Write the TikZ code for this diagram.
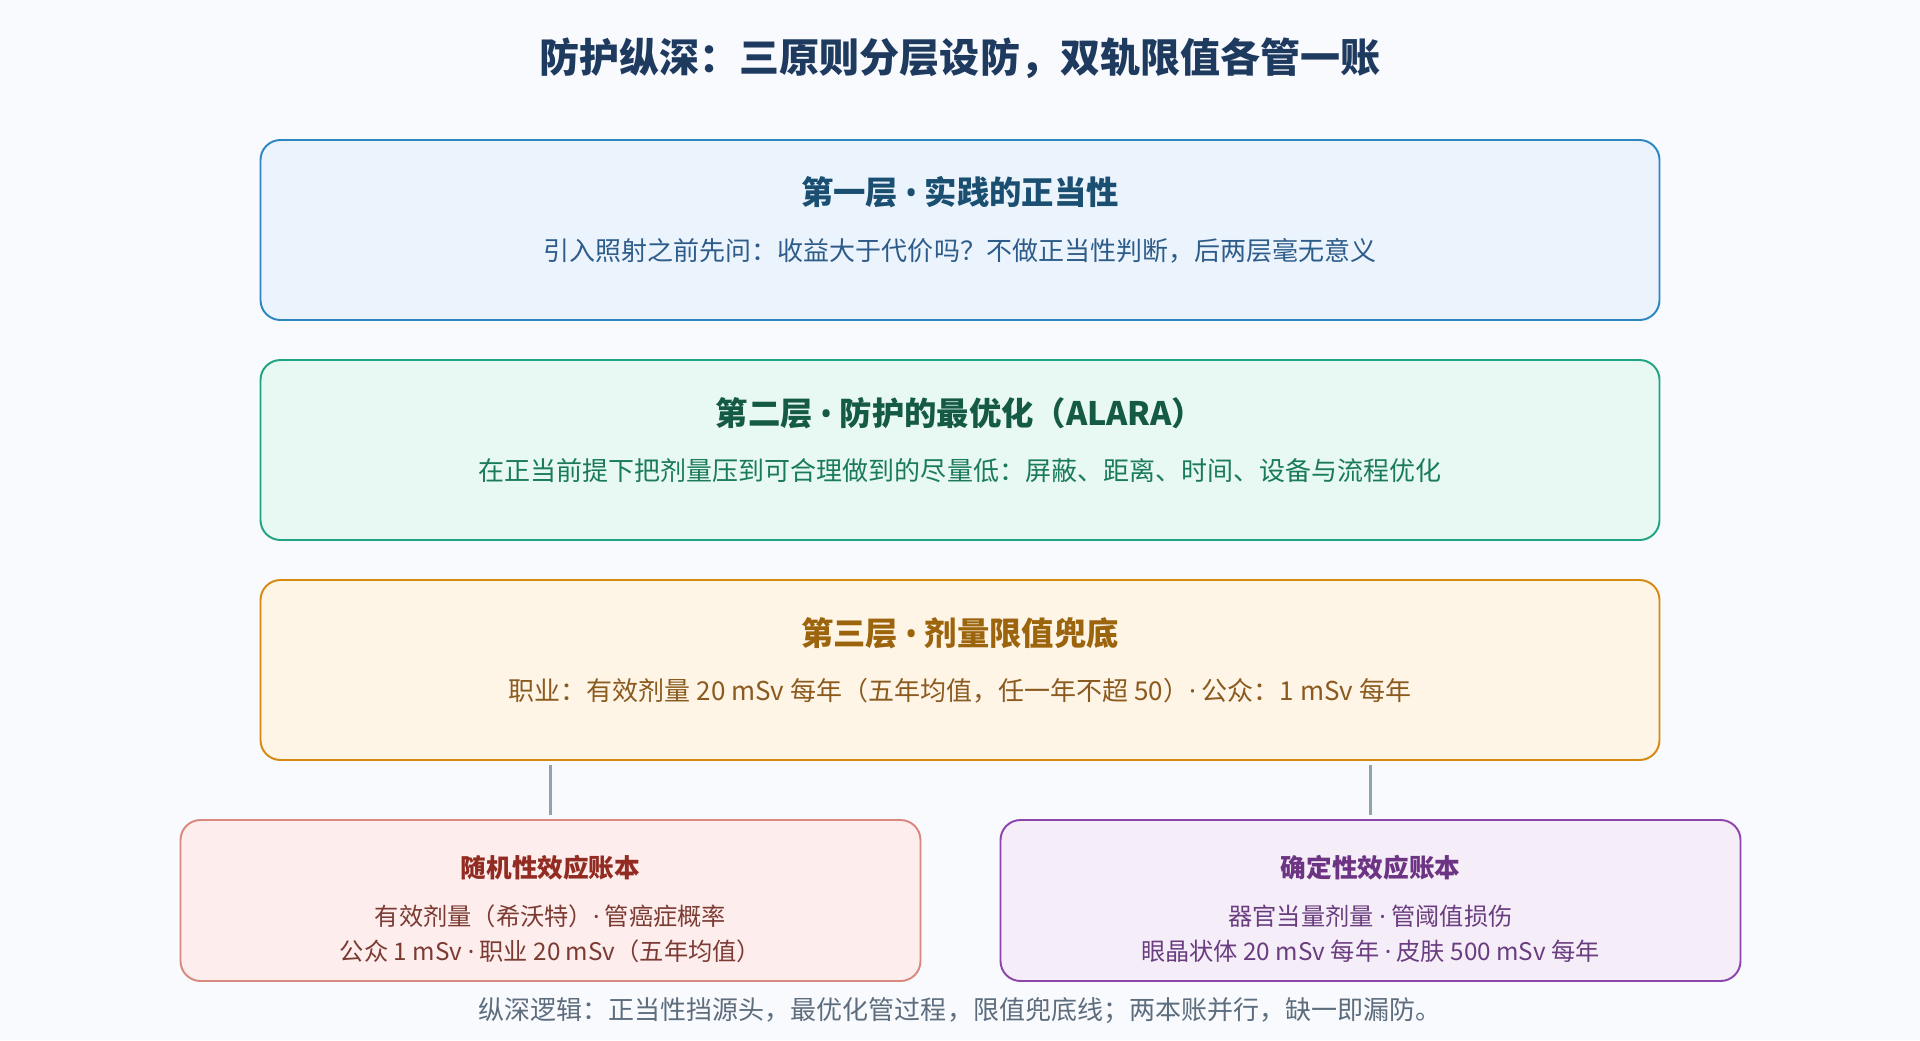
\documentclass[tikz,border=0pt]{standalone}
\usepackage{fontspec}
\setmainfont{Noto Sans CJK SC}
\newfontfamily\latinfont{Noto Sans}
\usetikzlibrary{positioning, calc}

\newcommand{\middot}{{\latinfont ·}}
\newcommand{\bulletdot}{{\latinfont •}}

\definecolor{bgpage}{HTML}{F8FAFD}
\definecolor{titlecol}{HTML}{1F3A5F}
\definecolor{oneFill}{HTML}{EBF3FC}
\definecolor{oneDraw}{HTML}{2E86C1}
\definecolor{oneHead}{HTML}{1B4F72}
\definecolor{oneText}{HTML}{2E5C8A}
\definecolor{twoFill}{HTML}{E8F8F2}
\definecolor{twoDraw}{HTML}{1FA383}
\definecolor{twoHead}{HTML}{145A44}
\definecolor{twoText}{HTML}{1A7A5C}
\definecolor{threeFill}{HTML}{FEF5E7}
\definecolor{threeDraw}{HTML}{D68910}
\definecolor{threeHead}{HTML}{9C640C}
\definecolor{threeText}{HTML}{8B5A1E}
\definecolor{stochFill}{HTML}{FDEDEC}
\definecolor{stochDraw}{HTML}{D98880}
\definecolor{stochHead}{HTML}{922B21}
\definecolor{stochText}{HTML}{7B3B33}
\definecolor{detFill}{HTML}{F5EEF8}
\definecolor{detDraw}{HTML}{8E44AD}
\definecolor{detHead}{HTML}{6C3483}
\definecolor{detText}{HTML}{6A3D80}
\definecolor{linkcol}{HTML}{8FA3AF}
\definecolor{footcol}{HTML}{5D6D7E}

\begin{document}
\begin{tikzpicture}[
		layer/.style={draw, line width=1.1pt, outer sep=0pt, rounded corners=0.4cm, minimum width=27.98cm, minimum height=3.6cm},
		ledger/.style={draw, line width=1.1pt, outer sep=0pt, rounded corners=0.4cm, minimum width=14.8cm, minimum height=3.22cm},
		head/.style={font=\bfseries\fontsize{18.4pt}{21pt}\selectfont},
		body/.style={font=\fontsize{14.8pt}{18pt}\selectfont},
		smallhead/.style={font=\bfseries\fontsize{14.6pt}{18pt}\selectfont},
		smallbody/.style={font=\fontsize{13.8pt}{17pt}\selectfont},
		link/.style={draw=linkcol, line width=2pt},
		title/.style={font=\bfseries\fontsize{22.8pt}{27pt}\selectfont, text=titlecol}
		]
		
		% background / bounding box
		\fill[bgpage] (0,0) rectangle (38.4,-20.8);
		\useasboundingbox (0,0) rectangle (38.4,-20.8);
		
		\node[title] (Title) at (19.2,-1.16) {防护纵深：三原则分层设防，双轨限值各管一账};
		
		% ==========================================
		% THREE LAYERS
		% ==========================================
		
		\node[layer, fill=oneFill, draw=oneDraw] (LayerOne) at (19.2,-4.6) {};
		\node[head, text=oneHead] (LayerOneHead) at ([yshift=-1.04cm]LayerOne.north) {第一层 \bulletdot{} 实践的正当性};
		\node[body, text=oneText] (LayerOneText) at ([yshift=-2.22cm]LayerOne.north) {引入照射之前先问：收益大于代价吗？不做正当性判断，后两层毫无意义};
		
		\node[layer, fill=twoFill, draw=twoDraw, below=0.8cm of LayerOne] (LayerTwo) {};
		\node[head, text=twoHead] (LayerTwoHead) at ([yshift=-1.06cm]LayerTwo.north) {第二层 \bulletdot{} 防护的最优化（ALARA）};
		\node[body, text=twoText] (LayerTwoText) at ([yshift=-2.22cm]LayerTwo.north) {在正当前提下把剂量压到可合理做到的尽量低：屏蔽、距离、时间、设备与流程优化};
		
		\node[layer, fill=threeFill, draw=threeDraw, below=0.8cm of LayerTwo] (LayerThree) {};
		\node[head, text=threeHead] (LayerThreeHead) at ([yshift=-1.06cm]LayerThree.north) {第三层 \bulletdot{} 剂量限值兜底};
		\node[body, text=threeText] (LayerThreeText) at ([yshift=-2.22cm]LayerThree.north) {职业：有效剂量 20 mSv 每年（五年均值，任一年不超 50）\middot{} 公众：1 mSv 每年};
		
		% ==========================================
		% TWO LEDGERS
		% ==========================================
		
		\node[ledger, fill=stochFill, draw=stochDraw, below=1.2cm of LayerThree.south west, anchor=north west, xshift=-1.6cm] (Stoch) {};
		\node[smallhead, text=stochHead] (StochHead) at ([yshift=-0.96cm]Stoch.north) {随机性效应账本};
		\node[smallbody, text=stochText] (StochLineA) at ([yshift=-1.92cm]Stoch.north) {有效剂量（希沃特）\middot{} 管癌症概率};
		\node[smallbody, text=stochText] (StochLineB) at ([yshift=-2.62cm]Stoch.north) {公众 1 mSv \middot{} 职业 20 mSv（五年均值）};
		
		\node[ledger, fill=detFill, draw=detDraw, below=1.2cm of LayerThree.south east, anchor=north east, xshift=1.62cm] (Det) {};
		\node[smallhead, text=detHead] (DetHead) at ([yshift=-0.96cm]Det.north) {确定性效应账本};
		\node[smallbody, text=detText] (DetLineA) at ([yshift=-1.92cm]Det.north) {器官当量剂量 \middot{} 管阈值损伤};
		\node[smallbody, text=detText] (DetLineB) at ([yshift=-2.62cm]Det.north) {眼晶状体 20 mSv 每年 \middot{} 皮肤 500 mSv 每年};
		
		\draw[link] ([yshift=-0.1cm]Stoch.north |- LayerThree.south) -- ([yshift=0.1cm]Stoch.north);
		\draw[link] ([yshift=-0.1cm]Det.north |- LayerThree.south) -- ([yshift=0.1cm]Det.north);
		
		% footer
		\node[body, text=footcol] (Footer) at (19.2,-20.22) {纵深逻辑：正当性挡源头，最优化管过程，限值兜底线；两本账并行，缺一即漏防。};
		
	\end{tikzpicture}
\end{document}
